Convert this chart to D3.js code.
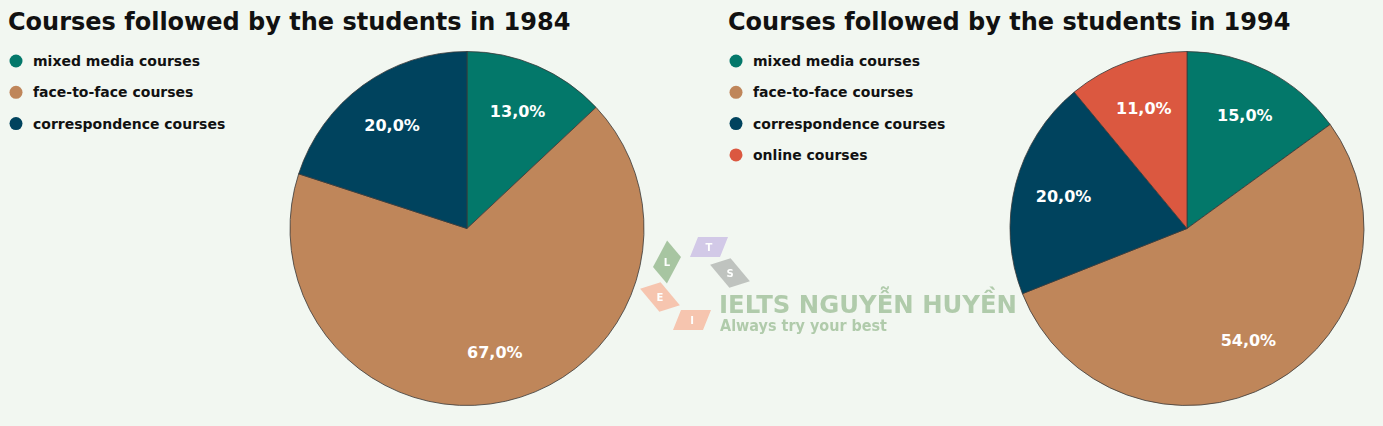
<!DOCTYPE html>
<html>
<head>
<meta charset="utf-8">
<script src="https://cdn.jsdelivr.net/npm/d3@7"></script>
<style>
  body { margin: 0; background: #f2f7f1; }
  svg { display: block; }
  text { font-family: "DejaVu Sans", Verdana, sans-serif; }
</style>
</head>
<body>
<div id="chart"></div>
<script>
var categories1984 = ["mixed media courses", "face-to-face courses", "correspondence courses"];
var values1984 = [13, 67, 20];
var categories1994 = ["mixed media courses", "face-to-face courses", "correspondence courses", "online courses"];
var values1994 = [15, 54, 20, 11];
var titles = ["Courses followed by the students in 1984", "Courses followed by the students in 1994"];
var colors = ["#03786a", "#bf865a", "#00435e", "#db5840"];

var width = 1383, height = 426;

var svg = d3.select("#chart").append("svg")
  .attr("width", width)
  .attr("height", height);

svg.append("rect").attr("width", width).attr("height", height).attr("fill", "#f2f7f1");

var panels = [
  { title: titles[0], cats: categories1984, vals: values1984, x0: 0, cx: 467 },
  { title: titles[1], cats: categories1994, vals: values1994, x0: 720, cx: 1187 }
];

var radius = 177;
var pie = d3.pie().sort(null).value(function(d) { return d.v; });
var arc = d3.arc().innerRadius(0).outerRadius(radius);
var labelArc = d3.arc().innerRadius(radius * 0.72).outerRadius(radius * 0.72);

panels.forEach(function(p) {
  var g = svg.append("g");

  g.append("text")
    .attr("x", p.x0 + 8)
    .attr("y", 30)
    .attr("font-size", 24)
    .attr("font-weight", "bold")
    .attr("fill", "#111")
    .text(p.title);

  // legend
  var leg = g.selectAll(".leg").data(p.cats).enter().append("g")
    .attr("transform", function(d, i) { return "translate(" + (p.x0 + 16) + "," + (61 + i * 31.3) + ")"; });
  leg.append("circle").attr("r", 6.5).attr("fill", function(d, i) { return colors[i]; });
  leg.append("text")
    .attr("x", 17)
    .attr("y", 5)
    .attr("font-size", 14)
    .attr("font-weight", "bold")
    .attr("fill", "#111")
    .text(function(d) { return d; });

  // pie
  var data = p.vals.map(function(v, i) { return { v: v, i: i }; });
  var pg = g.append("g").attr("transform", "translate(" + p.cx + ",228.5)");
  var arcs = pie(data);
  pg.selectAll("path").data(arcs).enter().append("path")
    .attr("d", arc)
    .attr("fill", function(d) { return colors[d.data.i]; })
    .attr("stroke", "#3a3a3a")
    .attr("stroke-width", 0.8);
  pg.selectAll(".lbl").data(arcs).enter().append("text")
    .attr("transform", function(d) { return "translate(" + labelArc.centroid(d) + ")"; })
    .attr("text-anchor", "middle")
    .attr("dy", "0.35em")
    .attr("font-size", 16)
    .attr("font-weight", "bold")
    .attr("fill", "#fff")
    .text(function(d) { return d.data.v.toFixed(1).replace(".", ",") + "%"; });
});

// watermark
var wm = svg.append("g").attr("opacity", 0.9);
var tiles = [
  { l: "L", x: 667, y: 262, c: "#9fbf98", rot: -62 },
  { l: "T", x: 709, y: 247, c: "#cfc3e6", rot: 0 },
  { l: "S", x: 730, y: 273, c: "#b9bdb9", rot: 50 },
  { l: "E", x: 660, y: 297, c: "#f6bfa8", rot: 50 },
  { l: "I", x: 692, y: 320, c: "#f6bfa8", rot: 0 }
];
var tg = wm.selectAll(".tile").data(tiles).enter().append("g")
  .attr("transform", function(d) { return "translate(" + d.x + "," + d.y + ")"; });
tg.append("path")
  .attr("d", "M-11,-10 L19,-10 L11,10 L-19,10 Z")
  .attr("transform", function(d) { return "rotate(" + d.rot + ")"; })
  .attr("fill", function(d) { return d.c; });
tg.append("text")
  .attr("text-anchor", "middle")
  .attr("dy", "0.35em")
  .attr("font-size", 10)
  .attr("font-weight", "bold")
  .attr("fill", "#fff")
  .text(function(d) { return d.l; });
wm.append("text")
  .attr("x", 719)
  .attr("y", 313)
  .attr("font-size", 25)
  .attr("font-weight", "bold")
  .attr("fill", "#a9c6a3")
  .attr("textLength", 298)
  .attr("lengthAdjust", "spacingAndGlyphs")
  .text("IELTS NGUYỄN HUYỀN");
wm.append("text")
  .attr("x", 720)
  .attr("y", 331)
  .attr("font-size", 15)
  .attr("font-weight", "bold")
  .attr("fill", "#a9c6a3")
  .attr("textLength", 167)
  .attr("lengthAdjust", "spacingAndGlyphs")
  .text("Always try your best");
</script>
</body>
</html>
